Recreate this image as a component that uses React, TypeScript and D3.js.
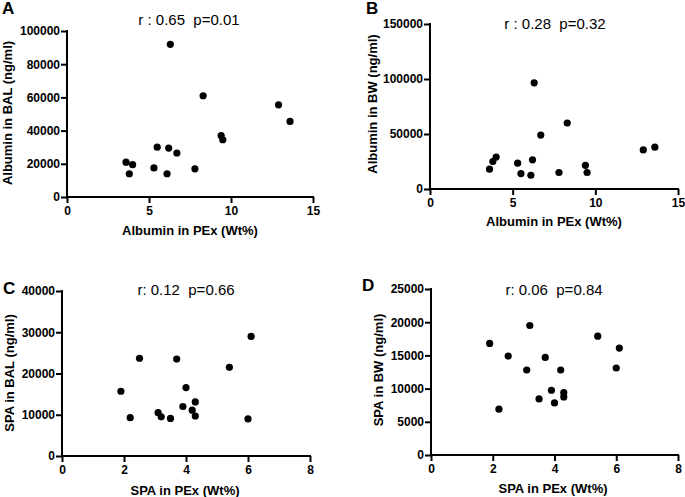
import { useEffect, useRef } from 'react'
import * as d3 from 'd3'

// Panel A: albumin PEx vs BAL
const albPexA = [3.6, 3.8, 4.0, 5.3, 5.5, 6.1, 6.2, 6.3, 6.7, 7.8, 8.3, 9.4, 9.5, 12.9, 13.6]
const albBal = [21000, 14000, 19500, 17500, 30000, 14000, 29500, 92000, 26500, 17000, 61000, 37000, 34500, 55500, 45500]

// Panel B: albumin PEx vs BW
const albPexB = [3.6, 3.8, 4.0, 5.3, 5.5, 6.1, 6.2, 6.3, 6.7, 7.8, 8.3, 9.4, 9.5, 12.9, 13.6]
const albBw = [18000, 25000, 29000, 23500, 14000, 12500, 26500, 96500, 49000, 15000, 60000, 21500, 15000, 35500, 38000]

// Panel C: SPA PEx vs BAL
const spaPexC = [1.9, 2.2, 2.5, 3.1, 3.2, 3.5, 3.7, 3.9, 4.0, 4.2, 4.3, 4.3, 5.4, 6.0, 6.1]
const spaBal = [15700, 9300, 23700, 10500, 9500, 9100, 23500, 12000, 16600, 11100, 13100, 9700, 21500, 9000, 29000]

// Panel D: SPA PEx vs BW
const spaPexD = [1.9, 2.2, 2.5, 3.1, 3.2, 3.5, 3.7, 3.9, 4.0, 4.2, 4.3, 4.3, 5.4, 6.0, 6.1]
const spaBw = [16800, 6900, 14900, 12800, 19500, 8450, 14700, 9750, 7850, 12800, 9400, 8750, 17900, 13100, 16100]

const albTicksX = [0, 5, 10, 15]
const spaTicksX = [0, 2, 4, 6, 8]
const ticksA = [0, 20000, 40000, 60000, 80000, 100000]
const ticksB = [0, 50000, 100000, 150000]
const ticksC = [0, 10000, 20000, 30000, 40000]
const ticksD = [0, 5000, 10000, 15000, 20000, 25000]

const panels = [
  {
    letter: 'A', stat: 'r : 0.65  p=0.01', xs: albPexA, ys: albBal, xMax: 15, yMax: 100000,
    xTicks: albTicksX, yTicks: ticksA, xTitle: 'Albumin in PEx (Wt%)', yTitle: 'Albumin in BAL (ng/ml)',
    box: { l: 67, r: 313, t: 31, b: 197 }, letterPos: [2, 14], statPos: [189, 25],
    xTitlePos: [190, 230], yTitlePos: [7, 113],
  },
  {
    letter: 'B', stat: 'r : 0.28  p=0.32', xs: albPexB, ys: albBw, xMax: 15, yMax: 150000,
    xTicks: albTicksX, yTicks: ticksB, xTitle: 'Albumin in PEx (Wt%)', yTitle: 'Albumin in BW (ng/ml)',
    box: { l: 430, r: 678, t: 24, b: 189 }, letterPos: [366, 14], statPos: [555, 29],
    xTitlePos: [554, 221], yTitlePos: [372, 104],
  },
  {
    letter: 'C', stat: 'r: 0.12  p=0.66', xs: spaPexC, ys: spaBal, xMax: 8, yMax: 40000,
    xTicks: spaTicksX, yTicks: ticksC, xTitle: 'SPA in PEx (Wt%)', yTitle: 'SPA in BAL (ng/ml)',
    box: { l: 62, r: 310, t: 291, b: 456 }, letterPos: [3, 294], statPos: [186, 295],
    xTitlePos: [185, 490], yTitlePos: [9, 373],
  },
  {
    letter: 'D', stat: 'r: 0.06  p=0.84', xs: spaPexD, ys: spaBw, xMax: 8, yMax: 25000,
    xTicks: spaTicksX, yTicks: ticksD, xTitle: 'SPA in PEx (Wt%)', yTitle: 'SPA in BW (ng/ml)',
    box: { l: 431, r: 678, t: 289, b: 455 }, letterPos: [362, 291], statPos: [554, 295],
    xTitlePos: [553, 488], yTitlePos: [378, 370],
  },
]

const FONT = 'Liberation Sans, Arial, Helvetica, sans-serif'

export default function App() {
  const svgRef = useRef<SVGSVGElement>(null)

  useEffect(() => {
    document.body.style.margin = '0'
    if (!svgRef.current) return
    const svg = d3.select(svgRef.current)
    svg.selectAll('*').remove()

    panels.forEach(p => {
      const x = d3.scaleLinear().domain([0, p.xMax]).range([p.box.l, p.box.r])
      const y = d3.scaleLinear().domain([0, p.yMax]).range([p.box.b, p.box.t])
      const g = svg.append('g')

      const xAxis = g.append('g')
        .attr('transform', `translate(0,${p.box.b})`)
        .call(d3.axisBottom(x).tickValues(p.xTicks).tickSize(6).tickPadding(3).tickFormat(d3.format('d')))
      const yAxis = g.append('g')
        .attr('transform', `translate(${p.box.l},0)`)
        .call(d3.axisLeft(y).tickValues(p.yTicks).tickSize(6).tickPadding(1).tickFormat(d3.format('d')))

      ;[xAxis, yAxis].forEach(ax => {
        ax.select('.domain').attr('stroke', '#000').attr('stroke-width', 2)
          .attr('d', null)
        ax.selectAll('.tick line').attr('stroke', '#000').attr('stroke-width', 2)
        ax.selectAll('.tick text')
          .attr('fill', '#000')
          .style('font-family', FONT)
          .style('font-size', '12px')
          .style('font-weight', 'bold')
      })
      // redraw axis lines without outer ticks
      xAxis.select('.domain').attr('d', `M${p.box.l - 1},0H${p.box.r + 1}`)
      yAxis.select('.domain').attr('d', `M0,${p.box.b + 1}V${p.box.t - 1}`)

      g.selectAll('circle.pt')
        .data(p.xs.map((v, i) => [v, p.ys[i]]))
        .join('circle')
        .attr('class', 'pt')
        .attr('cx', d => x(d[0]))
        .attr('cy', d => y(d[1]))
        .attr('r', 3.6)
        .attr('fill', '#000')

      g.append('text')
        .attr('x', p.letterPos[0]).attr('y', p.letterPos[1])
        .style('font-family', FONT).style('font-size', '17px').style('font-weight', 'bold')
        .text(p.letter)

      g.append('text')
        .attr('x', p.statPos[0]).attr('y', p.statPos[1])
        .attr('text-anchor', 'middle')
        .style('font-family', FONT).style('font-size', '15px')
        .style('white-space', 'pre')
        .text(p.stat)

      g.append('text')
        .attr('x', p.xTitlePos[0]).attr('y', p.xTitlePos[1])
        .attr('text-anchor', 'middle').attr('dominant-baseline', 'central')
        .style('font-family', FONT).style('font-size', '13px').style('font-weight', 'bold')
        .text(p.xTitle)

      g.append('text')
        .attr('transform', `translate(${p.yTitlePos[0]},${p.yTitlePos[1]}) rotate(-90)`)
        .attr('text-anchor', 'middle').attr('dominant-baseline', 'central')
        .style('font-family', FONT).style('font-size', '13px').style('font-weight', 'bold')
        .text(p.yTitle)
    })
  }, [])

  return <svg ref={svgRef} width={685} height={497} style={{ display: 'block', background: '#fff' }} />
}
